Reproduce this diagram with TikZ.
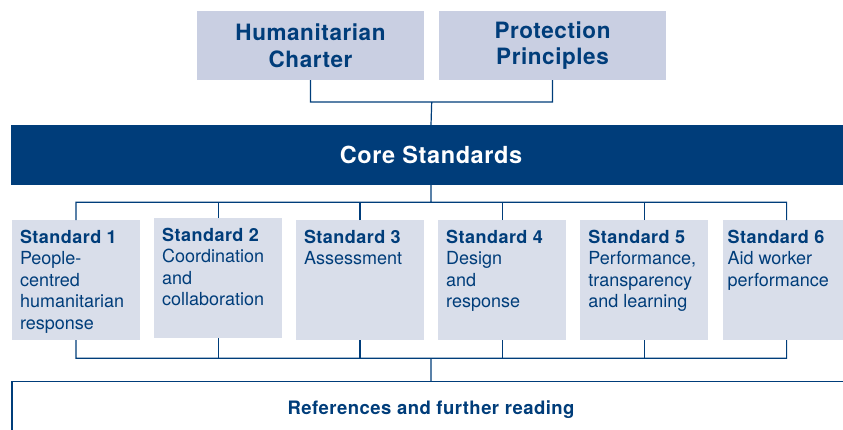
\documentclass[tikz,border=0pt]{standalone}
\usepackage{fontspec}
\setmainfont{TeX Gyre Heros}[BoldFeatures={LetterSpace=2.5}]
\usetikzlibrary{positioning}

\definecolor{sphereblue}{RGB}{0,61,122}
\definecolor{boxlilac}{RGB}{201,207,226}
\definecolor{boxgrey}{RGB}{217,222,234}

\newcommand{\stdtext}[2]{\parbox[t][120pt][t]{112pt}{\raggedright\rule{0pt}{23.3pt}\textbf{#1}\\#2}}

\begin{document}
\begin{tikzpicture}[x=1pt,y=-1pt,node distance=15pt,
	topbox/.style={fill=boxlilac,text=sphereblue,align=center,inner sep=0pt,outer sep=0pt,
		minimum width=227pt,minimum height=69pt,font=\fontsize{22.5}{26.7}\selectfont\bfseries},
	corebar/.style={fill=sphereblue,text=white,inner sep=0pt,outer sep=0pt,
		minimum width=840pt,minimum height=60pt,font=\fontsize{23.5}{28}\selectfont\bfseries},
	stdbox/.style={fill=boxgrey,text=sphereblue,inner xsep=8pt,inner ysep=0pt,outer sep=0pt,
		font=\fontsize{18}{21.5}\selectfont},
	refbox/.style={draw=sphereblue,line width=1.2pt,text=sphereblue,inner sep=0pt,outer sep=0pt,
		minimum width=838pt,minimum height=56.6pt,font=\fontsize{18.5}{22}\selectfont\bfseries},
	link/.style={draw=sphereblue,line width=1.2pt}]
	
	\useasboundingbox (0,0) rectangle (843,429);
	
	% framework on top
	\node[topbox,anchor=north west] (charter) at (197,11) {Humanitarian\\Charter};
	\node[topbox,right=of charter]  (principles)          {Protection\\Principles};
	
	\node[corebar] (core) at (431,155) {\raisebox{-1.5pt}{Core Standards}};
	
	% the six standards
	\node[stdbox,anchor=north west]          (std1) at (12,220) {\stdtext{Standard 1}{People-\\centred\\humanitarian\\response}};
	\node[stdbox,right=14.2pt of std1,yshift=2pt] (std2) {\stdtext{Standard 2}{Coordination\\and\\collaboration}};
	\node[stdbox,anchor=north west]          (std3) at (296,220) {\stdtext{Standard 3}{Assessment}};
	\node[stdbox,right=14.2pt of std3]       (std4) {\stdtext{Standard 4}{Design\\and\\response}};
	\node[stdbox,right=14.2pt of std4]       (std5) {\stdtext{Standard 5}{Performance,\\transparency\\and learning}};
	\node[stdbox,right=14.2pt of std5]       (std6) {\stdtext{\hspace*{-3pt}Standard 6}{\hspace*{-3pt}Aid worker\\\hspace*{-3pt}performance}};
	
	\node[refbox] (refs) at (431,410) {References and further reading};
	
	\coordinate (topjoin) at (431.7,102);
	\coordinate (upbus)   at (431.7,202.3);
	\coordinate (lowbus)  at (431.7,358.3);
	
	\path[link] (charter.south) |- (topjoin) -| (principles.south)
	(topjoin) -- (core.north)
	(core.south) -- (core.south |- upbus)
	(std1.north) |- (std6.north |- upbus) -- (std6.north)
	(std1.south) |- (std6.south |- lowbus) -- (std6.south)
	(core.south |- lowbus) -- (refs.north);
	\foreach \i in {2,...,5}{
		\path[link] (std\i.north) -- (std\i.north |- upbus)
		(std\i.south) -- (std\i.south |- lowbus);
	}
\end{tikzpicture}
\end{document}
